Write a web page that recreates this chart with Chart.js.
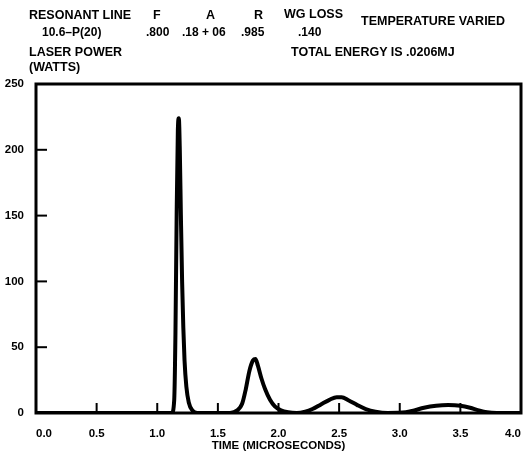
<!DOCTYPE html>
<html>
<head>
<meta charset="utf-8">
<script src="https://cdn.jsdelivr.net/npm/chart.js@4.4.1/dist/chart.umd.min.js"></script>
<style>
  body { margin: 0; background: #fff; }
  #wrap { position: relative; width: 530px; height: 455px; font-family: "Liberation Sans", Arial, sans-serif; color: #000; }
  #wrap canvas { position: absolute; left: 0; top: 0; }
  .t { position: absolute; font-weight: bold; font-size: 12.5px; line-height: 13px; white-space: nowrap; }
  .s { font-size: 12px; }
</style>
</head>
<body>
<div id="wrap">
  <canvas id="chart" width="530" height="455"></canvas>
  <div class="t" style="left:29px;top:9px">RESONANT LINE</div>
  <div class="t" style="left:153px;top:9px">F</div>
  <div class="t" style="left:206px;top:9px">A</div>
  <div class="t" style="left:254px;top:9px">R</div>
  <div class="t" style="left:284px;top:8px">WG LOSS</div>
  <div class="t s" style="left:42px;top:26px">10.6–P(20)</div>
  <div class="t s" style="left:146px;top:26px">.800</div>
  <div class="t s" style="left:182px;top:26px">.18 + 06</div>
  <div class="t s" style="left:241px;top:26px">.985</div>
  <div class="t s" style="left:298px;top:26px">.140</div>
  <div class="t" style="left:361px;top:15px">TEMPERATURE VARIED</div>
  <div class="t" style="left:29px;top:46px">LASER POWER</div>
  <div class="t" style="left:291px;top:46px">TOTAL ENERGY IS .0206MJ</div>
  <div class="t" style="left:29px;top:61px">(WATTS)</div>
</div>
<script>
// tiempos (microsegundos) y potencia (watts)
const timeUs = [0, 0.5, 1.0, 1.12, 1.14, 1.15, 1.16, 1.17, 1.178, 1.186, 1.195, 1.205, 1.215, 1.225, 1.24, 1.26, 1.29, 1.33,
  1.45, 1.60, 1.66, 1.70, 1.73, 1.76, 1.79, 1.81, 1.83, 1.86, 1.89, 1.93, 1.97, 2.02, 2.08, 2.15,
  2.22, 2.28, 2.35, 2.42, 2.48, 2.52, 2.58, 2.65, 2.72, 2.80, 2.90,
  3.05, 3.12, 3.20, 3.30, 3.40, 3.50, 3.58, 3.65, 3.72, 3.80, 4.0];
const powerW = [0, 0, 0, 0, 10, 60, 150, 215, 224, 200, 150, 100, 65, 40, 20, 8, 2, 0,
  0, 0, 2, 7, 18, 32, 40, 41, 36, 26, 18, 10, 5, 2, 0.5, 0,
  1, 3, 6.5, 10, 12, 12, 9.5, 6, 3, 1, 0,
  0.5, 2, 4, 5.5, 6, 5.5, 4, 2, 0.5, 0, 0];

const xTicks = [0, 0.5, 1.0, 1.5, 2.0, 2.5, 3.0, 3.5, 4.0];
const yTicks = [0, 50, 100, 150, 200, 250];

const puntos = timeUs.map((t, i) => ({ x: t, y: powerW[i] }));

// marco del grafico y marcas hacia adentro
const marco = {
  id: 'marco',
  afterDatasetsDraw(chart) {
    const ctx = chart.ctx;
    const a = chart.chartArea;
    const xs = chart.scales.x, ys = chart.scales.y;
    ctx.save();
    ctx.strokeStyle = '#000';
    ctx.lineWidth = 3;
    ctx.strokeRect(a.left, a.top, a.right - a.left, a.bottom - a.top);
    ctx.lineWidth = 2;
    xTicks.slice(1, -1).forEach(v => {
      const px = xs.getPixelForValue(v);
      ctx.beginPath();
      ctx.moveTo(px, a.bottom);
      ctx.lineTo(px, a.bottom - 10);
      ctx.stroke();
    });
    yTicks.slice(1, -1).forEach(v => {
      const py = ys.getPixelForValue(v);
      ctx.beginPath();
      ctx.moveTo(a.left, py);
      ctx.lineTo(a.left + 11, py);
      ctx.stroke();
    });
    ctx.restore();
  }
};

const fuente = { family: '"Liberation Sans", Arial, sans-serif', weight: 'bold', size: 11.5 };

new Chart(document.getElementById('chart'), {
  type: 'line',
  data: {
    datasets: [{
      data: puntos,
      borderColor: '#000',
      borderWidth: 4,
      pointRadius: 0,
      cubicInterpolationMode: 'monotone',
      borderJoinStyle: 'round',
      borderCapStyle: 'round',
      fill: false
    }]
  },
  options: {
    responsive: false,
    animation: false,
    layout: { padding: { left: 0, top: 84, right: 9, bottom: 2 } },
    plugins: { legend: { display: false }, tooltip: { enabled: false } },
    scales: {
      x: {
        type: 'linear',
        min: 0, max: 4,
        afterBuildTicks: s => { s.ticks = xTicks.map(v => ({ value: v })); },
        afterFit: s => { s.height = 40; },
        grid: { display: false },
        border: { display: false },
        ticks: {
          align: 'inner',
          color: '#000',
          font: fuente,
          padding: 6,
          callback: v => v.toFixed(1)
        },
        title: {
          display: true,
          text: 'TIME (MICROSECONDS)',
          color: '#000',
          font: fuente,
          padding: { top: 1, bottom: 0 }
        }
      },
      y: {
        min: 0, max: 250,
        afterBuildTicks: s => { s.ticks = yTicks.map(v => ({ value: v })); },
        afterFit: s => { s.width = 36; },
        grid: { display: false },
        border: { display: false },
        ticks: { color: '#000', font: fuente, padding: 4 }
      }
    }
  },
  plugins: [marco]
});
</script>
</body>
</html>
